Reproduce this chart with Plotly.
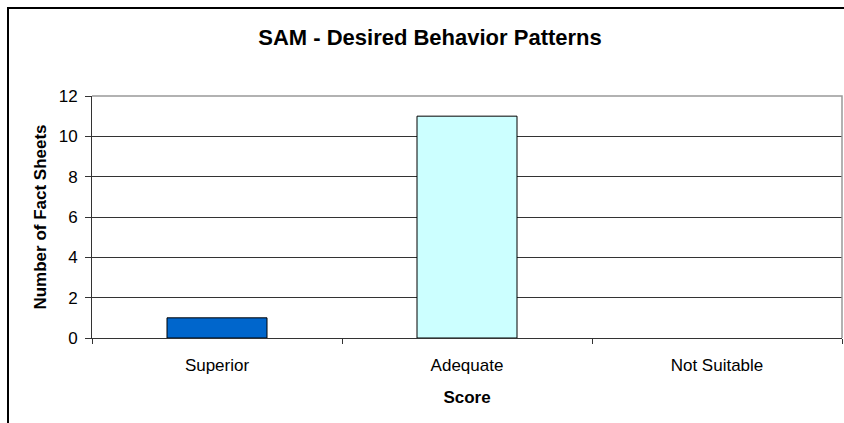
import plotly.graph_objects as go

scores = ["Superior", "Adequate", "Not Suitable"]
fact_sheets = [1, 11, 0]
bar_colors = ["#0066CC", "#CCFFFF", "#FFFFFF"]
outline_widths = [1, 1, 0]

fig = go.Figure(
    go.Bar(
        x=scores,
        y=fact_sheets,
        marker=dict(color=bar_colors, line=dict(color="#000000", width=outline_widths)),
    )
)

fig.update_layout(
    width=844,
    height=423,
    margin=dict(l=92, r=2, t=96, b=85, autoexpand=False),
    paper_bgcolor="white",
    plot_bgcolor="white",
    font=dict(family="Liberation Sans, Arial", color="#000000", size=17),
    bargap=0.6,
    showlegend=False,
    title=dict(
        text="<b>SAM - Desired Behavior Patterns</b>",
        x=430 / 844,
        xref="container",
        xanchor="center",
        y=1 - 37 / 423,
        yanchor="middle",
        font=dict(size=22),
    ),
)

fig.update_xaxes(
    title=dict(text="<b>Score</b>", standoff=16, font=dict(size=17)),
    automargin=False,
    showline=True,
    linecolor="#333333",
    linewidth=1,
    ticks="outside",
    tickson="boundaries",
    ticklen=5,
    tickcolor="#333333",
    ticklabelstandoff=12,
    showgrid=False,
)

fig.update_yaxes(
    title=dict(text="<b>Number of Fact Sheets</b>", standoff=7, font=dict(size=17)),
    automargin=False,
    range=[0, 12],
    dtick=2,
    showline=True,
    linecolor="#333333",
    linewidth=1,
    ticks="outside",
    ticklen=6,
    tickcolor="#333333",
    ticklabelstandoff=4,
    showgrid=True,
    gridcolor="#333333",
    gridwidth=1,
    zeroline=False,
)

# gray frame on top and right of plot area
fig.add_shape(type="path", xref="paper", yref="paper",
              path="M 0 1 L 1 1 L 1 0", line=dict(color="#999999", width=1.5))
# outer chart border (cut off at right and bottom)
fig.add_shape(type="path", xref="paper", yref="paper",
              path="M -0.112 -0.6 L -0.112 1.3636 L 1.2 1.3636",
              line=dict(color="#000000", width=2))

fig.write_html("out.html", config={"displayModeBar": False},
               post_script="document.body.style.margin='0';")
